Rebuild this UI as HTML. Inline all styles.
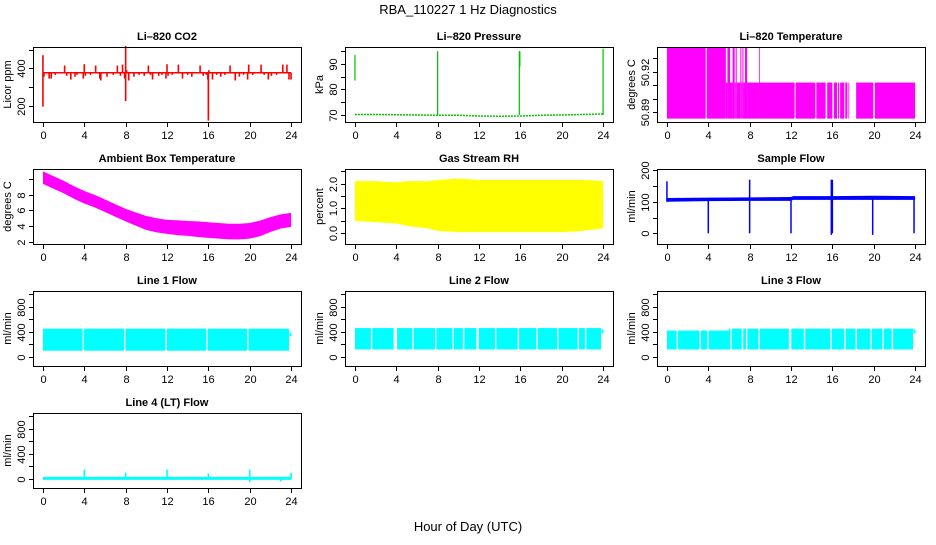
<!DOCTYPE html>
<html><head><meta charset="utf-8"><style>
html,body{margin:0;padding:0;background:#fff}
svg text{font-family:"Liberation Sans",sans-serif}
</style></head><body>
<svg id="c" width="936" height="540" xmlns="http://www.w3.org/2000/svg">
<text x="468" y="14" text-anchor="middle" font-size="13">RBA_110227  1 Hz Diagnostics</text>
<text x="468" y="531" text-anchor="middle" font-size="13">Hour of Day (UTC)</text>
</svg>
<script>
// ---- data ----
const xTicks=[0,4,8,12,16,20,24];
const co2Base=376;
const co2Spikes=[[0,470],[0,195],[0.1,355],[0.6,345],[0.8,345],[1.2,365],[2.1,415],[2.3,360],[2.7,340],[3.1,355],[3.3,365],[3.9,345],[4.0,422],[4.1,360],[4.6,365],[5.1,415],[5.5,345],[5.6,335],[6.2,355],[6.8,365],[7.2,415],[7.5,360],[7.7,420],[7.9,345],[8.0,520],[8.0,225],[8.1,390],[8.3,335],[8.8,355],[9.3,365],[9.8,360],[10.2,415],[10.4,365],[10.6,340],[11.2,360],[11.5,365],[11.9,345],[12.0,422],[12.1,360],[12.5,365],[13.1,420],[13.5,345],[14.0,365],[14.4,355],[15.2,415],[15.5,360],[15.8,365],[15.95,340],[16.0,120],[16.05,390],[16.4,340],[16.8,365],[17.2,355],[17.6,365],[18.1,415],[18.6,335],[19.0,355],[19.4,365],[19.8,340],[19.9,420],[20.3,365],[21.1,420],[21.4,365],[21.8,340],[22.1,360],[22.6,365],[23.2,420],[23.6,420],[23.8,340],[24.0,340]];
const presHours=[0,2,4,6,8,10,12,14,16,18,20,22,24];
const presBase=[70.2,70.2,70.1,70.0,69.9,69.9,69.6,69.5,69.6,69.9,70.0,70.2,70.4];
const presSpikes=[[0,83.5,93.5],[8,70,95],[15.9,70,95],[15.95,89,95],[24,70,96]];
const tempHigh=50.938, tempLow=50.912, tempBottom=50.8853;
const tempSegStart=[0,3.85,5.7,5.85,6.1,6.35,6.55,6.65,6.75,7.1,7.2,7.3,7.4,7.55,7.75,8.9,8.95,12.45,14.45,15.5,16.15,16.55,16.75,17.25,17.55,18.3,20.1];
const tempSegEnd=[3.75,5.7,5.85,6.1,6.35,6.55,6.65,6.75,7.1,7.2,7.3,7.4,7.55,7.75,8.9,8.95,12.35,14.35,15.35,16.0,16.45,16.65,17.15,17.45,17.6,19.95,24.0];
const tempSegHigh=[1,1,0,1,0,1,0,1,0,1,0,1,0,1,0,1,0,0,0,0,0,0,0,0,0,0,0];
const ambHours=[0,1,2,3,4,5,6,7,8,9,10,11,12,13,14,15,16,17,18,19,20,21,22,23,24];
const ambCenter=[10.2,9.6,9.0,8.3,7.7,7.2,6.6,6.0,5.4,4.9,4.4,4.1,3.9,3.8,3.7,3.6,3.5,3.4,3.3,3.3,3.4,3.7,4.2,4.6,4.8];
const ambHalf=[0.8,0.8,0.8,0.8,0.8,0.8,0.8,0.8,0.8,0.85,0.9,0.9,0.9,0.95,0.95,1.0,1.0,1.0,1.0,1.0,1.0,1.0,0.95,0.9,0.9];
const rhHours=[0,2,4,5,6,7,8,10,12,14,16,18,20,22,24];
const rhHigh=[2.1,2.1,2.05,2.1,2.1,2.1,2.15,2.2,2.15,2.15,2.15,2.15,2.15,2.15,2.1];
const rhLow=[0.5,0.45,0.4,0.3,0.25,0.2,0.1,0.05,0.05,0.05,0.05,0.05,0.05,0.1,0.2];
const sfHours=[0,4,8,12,12.2,16,20,24];
const sfLow=[100,102,103,103,106,106,106,106];
const sfHigh=[112,113,114,115,118,118,119,118];
const sfSpikes=[[0,100,165],[4,0,112],[8,0,170],[12,0,110],[15.9,-5,170],[16,0,170],[19.9,-5,115],[23.9,0,115]];
const l1Gaps=[3.9,7.9,11.9,15.85,19.8];
const l1Low=100,l1High=450,l1End=23.8;
const l2Gaps=[1.6,3.8,3.9,4.0,5.6,7.8,9.5,10.5,11.8,11.9,13.6,15.8,17.6,19.6,21.6,22.3];
const l2Low=120,l2High=460,l2End=23.8;
const l3Gaps=[1.0,3.2,3.95,6.2,7.3,7.7,8.9,11.85,11.95,13.3,15.85,17.2,18.3,19.75,20.9,21.8];
const l3Step=6.0,l3Low=120,l3HighA=420,l3HighB=450,l3End=23.8;
const l4Base=10;
const l4Spikes=[[4,0,150],[8,0,100],[12,0,150],[16,0,90],[20,-50,150],[23,-40,0],[24,0,100]];

// ---- layout ----
const NS="http://www.w3.org/2000/svg";
const svg=document.getElementById('c');
const colL=[33,345,657], rowT=[47,169,291,413], W=268, H=75;
function el(tag,attrs,parent){const e=document.createElementNS(NS,tag);for(const k in attrs)e.setAttribute(k,attrs[k]);(parent||svg).appendChild(e);return e;}
function panel(name,title,yLabel,col,row,ymin,ymax,ticks,labels){
  const g=el('g',{});
  
  
  const L=colL[col],T=rowT[row],B=T+H,R=L+W;
  const xs=v=>L+(v+0.96)*W/25.92;
  const ys=v=>B-(v-ymin)*H/(ymax-ymin);
  const t=el('text',{x:(L+R)/2,y:T-7,'text-anchor':'middle','font-size':11,'font-weight':'bold'},g);
  t.textContent=title;
  
  
  const plot=el('g',{},g);
  
  
  const ax=el('g',{stroke:'#000','stroke-width':1,fill:'none'},g);
  
  
  el('rect',{x:L+0.5,y:T+0.5,width:W,height:H},ax);
  el('line',{x1:xs(0),x2:xs(24),y1:B+0.5,y2:B+0.5},ax);
  xTicks.forEach(v=>{const x=Math.round(xs(v))+0.5;el('line',{x1:x,x2:x,y1:B,y2:B+5},ax);
    const tx=el('text',{x:x,y:B+17,'text-anchor':'middle','font-size':11,fill:'#000',stroke:'none'},g);tx.textContent=v;
    
    });
  ticks.forEach((v,i)=>{const y=Math.round(ys(v))+0.5;el('line',{x1:L-4,x2:L,y1:y,y2:y},ax);
    if(labels[i]){const tx=el('text',{x:L-8,y:y,'text-anchor':'middle','font-size':11,transform:`rotate(-90 ${L-8} ${y})`},g);tx.textContent=labels[i];
    
    }});
  el('line',{x1:L+0.5,x2:L+0.5,y1:ys(ticks[0]),y2:ys(ticks[ticks.length-1])},ax);
  const yt=el('text',{x:L-22,y:(T+B)/2,'text-anchor':'middle','font-size':11,transform:`rotate(-90 ${L-22} ${(T+B)/2})`},g);
  yt.textContent=yLabel;
  
  
  g.appendChild(ax);
  return {xs,ys,plot};
}
function vline(p,x,y1,y2,c,w){el('line',{x1:p.xs(x),x2:p.xs(x),y1:p.ys(y1),y2:p.ys(y2),stroke:c,'stroke-width':w||1.5},p.plot);}
function band(p,hours,lo,hi,c){
  let pts=hours.map((h,i)=>p.xs(h)+','+p.ys(hi[i]));
  pts=pts.concat(hours.map((h,i)=>p.xs(h)+','+p.ys(lo[i])).reverse());
  el('polygon',{points:pts.join(' '),fill:c},p.plot);
}
function gapBand(p,gaps,end,lo,hiFn,c){
  el('rect',{x:p.xs(0),y:p.ys(hiFn(0)),width:p.xs(end)-p.xs(0),height:p.ys(lo)-p.ys(hiFn(0)),fill:c},p.plot);
  if(hiFn(end)!==hiFn(0)){}
  gaps.forEach(gx=>el('rect',{x:p.xs(gx)-0.6,y:p.ys(1000),width:1.4,height:p.ys(lo-50)-p.ys(1000),fill:'#fff'},p.plot));
}

// CO2
let p=panel('co2','Li\u2013820 CO2','Licor ppm',0,0,113,514,[200,300,400,500],['200','','400','']);
el('line',{x1:p.xs(0),x2:p.xs(24),y1:p.ys(co2Base),y2:p.ys(co2Base),stroke:'#f00','stroke-width':1.5},p.plot);
co2Spikes.forEach(s=>vline(p,s[0],co2Base,s[1],'#f00',1.6));
// Pressure
p=panel('pressure','Li\u2013820 Pressure','kPa',1,0,67.25,96.67,[70,75,80,85,90,95],['70','','80','','90','']);
el('polyline',{points:presHours.map((h,i)=>p.xs(h)+','+p.ys(presBase[i])).join(' '),fill:'none',stroke:'#00c000','stroke-width':1.5,'stroke-dasharray':'2 1'},p.plot);
presSpikes.forEach(s=>vline(p,s[0],s[1],s[2],'#00c000',1.2));
// Temperature
p=panel('li820-temp','Li\u2013820 Temperature','degrees C',2,0,50.8828,50.9383,[50.89,50.9,50.91,50.92,50.93],['50.89','','','50.92','']);
tempSegStart.forEach((s,i)=>{const top=tempSegHigh[i]?tempHigh:tempLow;
  el('rect',{x:p.xs(s),y:p.ys(top),width:Math.max(0.8,p.xs(tempSegEnd[i])-p.xs(s)),height:p.ys(tempBottom)-p.ys(top),fill:'#f0f'},p.plot);});
// Ambient
p=panel('ambient-temp','Ambient Box Temperature','degrees C',0,1,1.71,11.31,[2,4,6,8,10],['2','4','6','8','']);
band(p,ambHours,ambCenter.map((c,i)=>c-ambHalf[i]),ambCenter.map((c,i)=>c+ambHalf[i]),'#f0f');
// RH
p=panel('gas-rh','Gas Stream RH','percent',1,1,-0.43,2.59,[0,0.5,1,1.5,2,2.5],['0.0','','1.0','','2.0','']);
band(p,rhHours,rhLow,rhHigh,'#ff0');
// Sample flow
p=panel('sample-flow','Sample Flow','ml/min',2,1,-34,204,[0,50,100,150,200],['0','','100','','200']);
band(p,sfHours,sfLow,sfHigh,'#00f');
sfSpikes.forEach(s=>vline(p,s[0],s[1],s[2],'#00f',1.5));
// Line flows
const fT=[0,200,400,600,800,1000],fL=['0','','400','','800',''];
p=panel('line1-flow','Line 1 Flow','ml/min',0,2,-143,1049,fT,fL);
gapBand(p,l1Gaps,l1End,l1Low,()=>l1High,'#0ff');
vline(p,23.95,330,380,'#0ff',2);
p=panel('line2-flow','Line 2 Flow','ml/min',1,2,-143,1049,fT,fL);
gapBand(p,l2Gaps,l2End,l2Low,()=>l2High,'#0ff');
vline(p,23.95,380,440,'#0ff',2);
p=panel('line3-flow','Line 3 Flow','ml/min',2,2,-143,1049,fT,fL);
el('rect',{x:p.xs(0),y:p.ys(l3HighA),width:p.xs(l3Step)-p.xs(0),height:p.ys(l3Low)-p.ys(l3HighA),fill:'#0ff'},p.plot);
el('rect',{x:p.xs(l3Step),y:p.ys(l3HighB),width:p.xs(l3End)-p.xs(l3Step),height:p.ys(l3Low)-p.ys(l3HighB),fill:'#0ff'},p.plot);
l3Gaps.forEach(gx=>el('rect',{x:p.xs(gx)-0.6,y:p.ys(1000),width:1.4,height:p.ys(l3Low-50)-p.ys(1000),fill:'#fff'},p.plot));
vline(p,23.95,380,440,'#0ff',2);
p=panel('line4-flow','Line 4 (LT) Flow','ml/min',0,3,-143,1049,fT,fL);
el('line',{x1:p.xs(0),x2:p.xs(24),y1:p.ys(l4Base),y2:p.ys(l4Base),stroke:'#0ff','stroke-width':3},p.plot);
l4Spikes.forEach(s=>vline(p,s[0],s[1],s[2],'#0ff',1.6));
</script>
</body></html>
